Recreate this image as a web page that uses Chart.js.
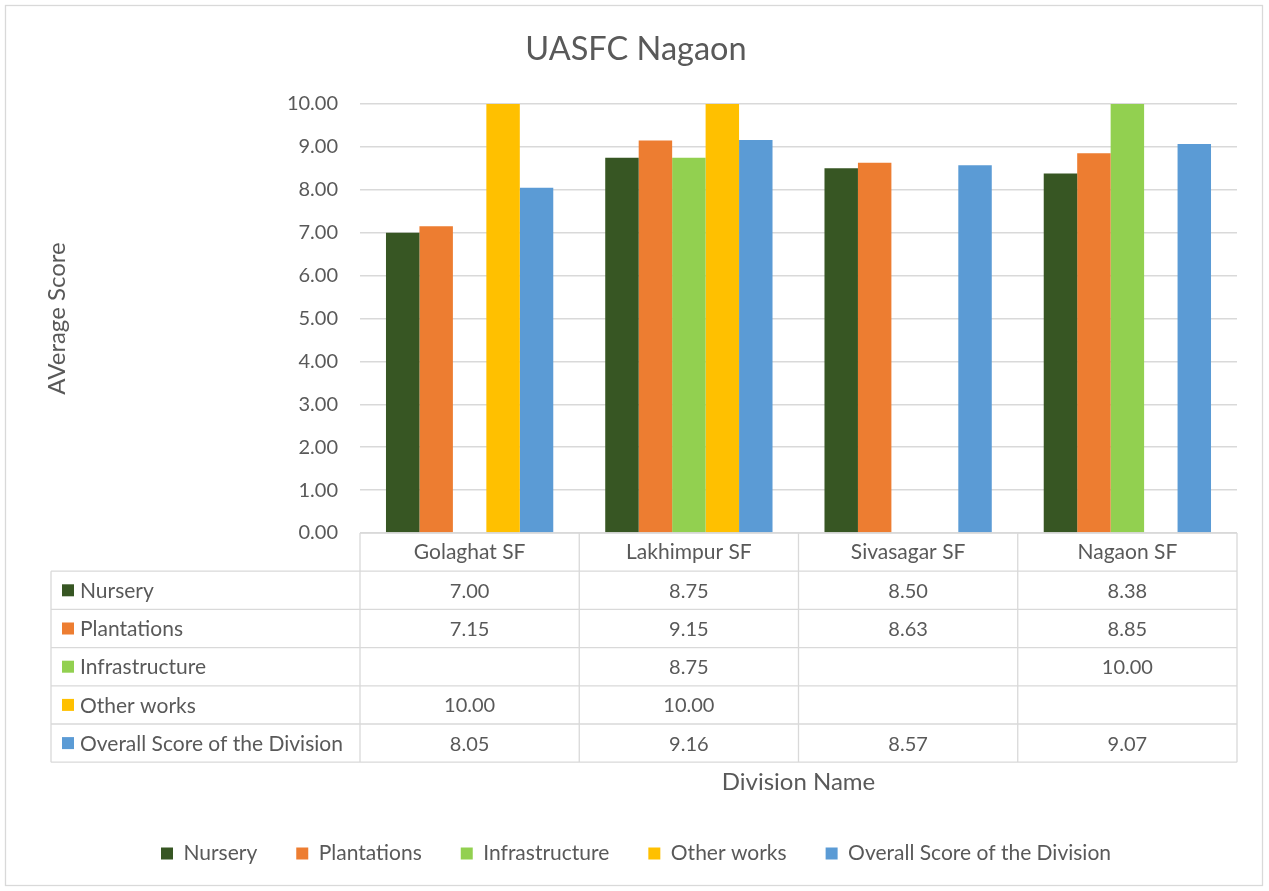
<!DOCTYPE html>
<html>
<head>
<meta charset="utf-8">
<script src="https://cdn.jsdelivr.net/npm/chart.js@4"></script>
<style>
html, body { margin: 0; padding: 0; background: #fff; }
#wrap { position: absolute; left: 0; top: 0; width: 1269px; height: 891px; }
</style>
</head>
<body>
<div id="wrap"><canvas id="chart" width="1269" height="891"></canvas></div>
<script>
// data
const divisions = ['Golaghat SF', 'Lakhimpur SF', 'Sivasagar SF', 'Nagaon SF'];
const nursery = [7.00, 8.75, 8.50, 8.38];
const plantations = [7.15, 9.15, 8.63, 8.85];
const infrastructure = [null, 8.75, null, 10.00];
const otherWorks = [10.00, 10.00, null, null];
const overall = [8.05, 9.16, 8.57, 9.07];
const yTicks = [0, 1, 2, 3, 4, 5, 6, 7, 8, 9, 10];

const FONT = "Lato, 'Open Sans', sans-serif";
const TXT = '#595959';
const LINE = '#d9d9d9';

Chart.defaults.font.family = FONT;
Chart.defaults.color = TXT;

// outer frame of the chart
const framePlugin = {
    id: 'frame',
    beforeDraw(chart) {
        const ctx = chart.ctx;
        ctx.save();
        ctx.fillStyle = '#fff';
        ctx.fillRect(0, 0, chart.width, chart.height);
        ctx.strokeStyle = LINE;
        ctx.lineWidth = 1.3;
        ctx.strokeRect(5.5, 5.5, chart.width - 12, chart.height - 11);
        ctx.restore();
    }
};

// data table under the plot, like Excel
const tablePlugin = {
    id: 'dataTable',
    afterDraw(chart) {
        const ctx = chart.ctx;
        const x = chart.scales.x;
        const top = chart.chartArea.bottom;
        const rowH = 38.2;
        const left = 51;
        const sets = chart.data.datasets;
        const n = divisions.length;
        const w = (x.right - x.left) / n;
        const bottom = top + rowH * (sets.length + 1);

        ctx.save();
        ctx.strokeStyle = LINE;
        ctx.lineWidth = 1.3;
        ctx.beginPath();
        ctx.moveTo(x.left, top);
        ctx.lineTo(x.right, top);
        for (let r = 1; r <= sets.length + 1; r++) {
            const y = top + r * rowH;
            ctx.moveTo(left, y);
            ctx.lineTo(x.right, y);
        }
        ctx.moveTo(left, top + rowH);
        ctx.lineTo(left, bottom);
        for (let i = 0; i <= n; i++) {
            const xx = x.left + i * w;
            ctx.moveTo(xx, top);
            ctx.lineTo(xx, bottom);
        }
        ctx.stroke();

        ctx.fillStyle = TXT;
        ctx.textBaseline = 'middle';
        sets.forEach((ds, r) => {
            const cy = top + (r + 1.5) * rowH;
            ctx.fillStyle = ds.backgroundColor;
            ctx.fillRect(left + 11, cy - 6, 12, 12);
            ctx.fillStyle = TXT;
            ctx.textAlign = 'left';
            ctx.font = '21px ' + FONT;
            ctx.fillText(ds.label, left + 29, cy + 1);
            ctx.textAlign = 'center';
            ctx.font = '20px ' + FONT;
            ds.data.forEach((v, i) => {
                if (v === null) return;
                ctx.fillText(v.toFixed(2), x.getPixelForValue(i), cy + 1);
            });
        });
        ctx.restore();
    }
};

const chart = new Chart(document.getElementById('chart'), {
    type: 'bar',
    data: {
        labels: divisions,
        datasets: [
            { label: 'Nursery', data: nursery, backgroundColor: '#375623' },
            { label: 'Plantations', data: plantations, backgroundColor: '#ED7D31' },
            { label: 'Infrastructure', data: infrastructure, backgroundColor: '#92D050' },
            { label: 'Other works', data: otherWorks, backgroundColor: '#FFC000' },
            { label: 'Overall Score of the Division', data: overall, backgroundColor: '#5B9BD5' }
        ]
    },
    options: {
        responsive: false,
        animation: false,
        layout: { padding: { top: 0, left: 35, right: 32, bottom: 17 } },
        datasets: { bar: { barPercentage: 1, categoryPercentage: 0.763 } },
        plugins: {
            title: {
                display: true,
                text: 'UASFC Nagaon',
                color: TXT,
                font: { size: 32.5, weight: 'normal' },
                padding: { top: 30.5, bottom: 34.5 }
            },
            legend: {
                position: 'bottom',
                labels: {
                    boxWidth: 12,
                    boxHeight: 12,
                    padding: 39,
                    color: TXT,
                    font: { size: 21 }
                }
            },
            tooltip: { enabled: false }
        },
        scales: {
            x: {
                grid: { display: false, drawTicks: false },
                border: { display: false },
                ticks: { color: TXT, font: { size: 21 }, padding: 7, maxRotation: 0 },
                title: {
                    display: true,
                    text: 'Division Name',
                    color: TXT,
                    font: { size: 24 },
                    padding: { top: 0, bottom: 7.6 }
                },
                afterFit(scale) { scale.height = 271; }
            },
            y: {
                min: 0,
                max: 10,
                afterBuildTicks(scale) { scale.ticks = yTicks.map(v => ({ value: v })); },
                grid: { color: LINE, lineWidth: 1.5, drawTicks: false },
                border: { display: false },
                ticks: {
                    color: TXT,
                    font: { size: 20 },
                    padding: 22,
                    callback: v => Number(v).toFixed(2)
                },
                title: {
                    display: true,
                    text: 'AVerage Score',
                    color: TXT,
                    font: { size: 24 },
                    padding: { top: 7.6, bottom: 0 }
                },
                afterFit(scale) { scale.width = 325; }
            }
        }
    },
    plugins: [framePlugin, tablePlugin]
});
</script>
</body>
</html>
